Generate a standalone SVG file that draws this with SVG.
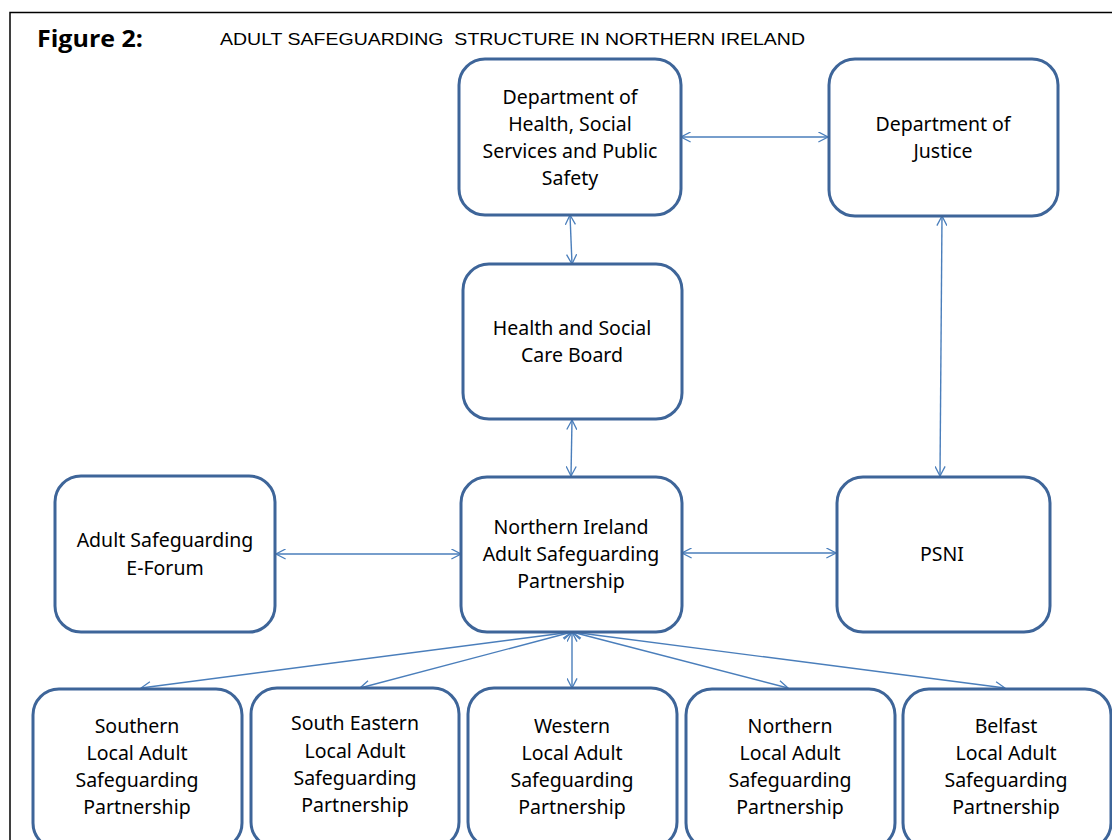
<svg xmlns="http://www.w3.org/2000/svg" width="1112" height="840" viewBox="0 0 1112 840">
<defs>
<marker id="ah" viewBox="0 0 12 12" refX="11.5" refY="6" markerWidth="11" markerHeight="11" markerUnits="userSpaceOnUse" orient="auto-start-reverse">
<path d="M1,0.5 L11.5,6 L1,11.5" fill="none" stroke="#4a7ebb" stroke-width="1.4"/>
</marker>
<style>
.box{fill:#fff;stroke:#3e6599;stroke-width:3}
.t{font-family:"Noto Sans","Open Sans",sans-serif;font-size:19.5px;fill:#000;text-anchor:middle}
.c{fill:none;stroke:#4a7ebb;stroke-width:1.4;marker-start:url(#ah);marker-end:url(#ah)}
</style>
</defs>
<rect width="1112" height="840" fill="#fff"/>
<path d="M10,850 L10,12.5 L1120,12.5" fill="none" stroke="#000" stroke-width="1.5"/>
<text x="37" y="47" font-family="Open Sans, Noto Sans, sans-serif" font-weight="bold" font-size="23" textLength="106" lengthAdjust="spacingAndGlyphs">Figure 2:</text>
<text x="220" y="45" font-family="Liberation Sans, Arial, sans-serif" font-size="17" xml:space="preserve" textLength="585" lengthAdjust="spacingAndGlyphs">ADULT SAFEGUARDING  STRUCTURE IN NORTHERN IRELAND</text>

<g id="connectors">
<line class="c" x1="681" y1="137" x2="828" y2="137"/>
<line class="c" x1="570" y1="215" x2="572" y2="264"/>
<line class="c" x1="572" y1="420" x2="571" y2="476"/>
<line class="c" x1="942" y1="216" x2="940" y2="476"/>
<line class="c" x1="276" y1="554" x2="461" y2="554"/>
<line class="c" x1="682" y1="553" x2="836" y2="553"/>
<line class="c" x1="572" y1="632" x2="141" y2="688"/>
<line class="c" x1="572" y1="632" x2="360" y2="688"/>
<line class="c" x1="572" y1="632" x2="572" y2="688"/>
<line class="c" x1="572" y1="632" x2="788" y2="688"/>
<line class="c" x1="572" y1="632" x2="1005" y2="688"/>
</g>

<g id="dhssps">
<rect class="box" x="459" y="59" width="222" height="156" rx="26"/>
<text class="t" x="570" y="104">Department of</text>
<text class="t" x="570" y="131">Health, Social</text>
<text class="t" x="570" y="158">Services and Public</text>
<text class="t" x="570" y="185">Safety</text>
</g>
<g id="doj">
<rect class="box" x="829" y="59" width="229" height="157" rx="26"/>
<text class="t" x="943" y="131">Department of</text>
<text class="t" x="943" y="158">Justice</text>
</g>
<g id="hscb">
<rect class="box" x="463" y="264" width="219" height="155" rx="26"/>
<text class="t" x="572" y="335">Health and Social</text>
<text class="t" x="572" y="362">Care Board</text>
</g>
<g id="eforum">
<rect class="box" x="55" y="476" width="220" height="156" rx="26"/>
<text class="t" x="165" y="547">Adult Safeguarding</text>
<text class="t" x="165" y="575">E-Forum</text>
</g>
<g id="niasp">
<rect class="box" x="461" y="477" width="221" height="155" rx="26"/>
<text class="t" x="571" y="534">Northern Ireland</text>
<text class="t" x="571" y="561">Adult Safeguarding</text>
<text class="t" x="571" y="588">Partnership</text>
</g>
<g id="psni">
<rect class="box" x="837" y="477" width="213" height="155" rx="26"/>
<text class="t" x="942" y="561">PSNI</text>
</g>
<g id="southern">
<rect class="box" x="33" y="689" width="209" height="160" rx="26"/>
<text class="t" x="137" y="733">Southern</text>
<text class="t" x="137" y="760">Local Adult</text>
<text class="t" x="137" y="787">Safeguarding</text>
<text class="t" x="137" y="814">Partnership</text>
</g>
<g id="southeastern">
<rect class="box" x="251" y="688" width="208" height="160" rx="26"/>
<text class="t" x="355" y="730">South Eastern</text>
<text class="t" x="355" y="758">Local Adult</text>
<text class="t" x="355" y="785">Safeguarding</text>
<text class="t" x="355" y="812">Partnership</text>
</g>
<g id="western">
<rect class="box" x="468" y="688" width="209" height="160" rx="26"/>
<text class="t" x="572" y="733">Western</text>
<text class="t" x="572" y="760">Local Adult</text>
<text class="t" x="572" y="787">Safeguarding</text>
<text class="t" x="572" y="814">Partnership</text>
</g>
<g id="northern">
<rect class="box" x="686" y="689" width="209" height="160" rx="26"/>
<text class="t" x="790" y="733">Northern</text>
<text class="t" x="790" y="760">Local Adult</text>
<text class="t" x="790" y="787">Safeguarding</text>
<text class="t" x="790" y="814">Partnership</text>
</g>
<g id="belfast">
<rect class="box" x="903" y="689" width="208" height="160" rx="26"/>
<text class="t" x="1006" y="733">Belfast</text>
<text class="t" x="1006" y="760">Local Adult</text>
<text class="t" x="1006" y="787">Safeguarding</text>
<text class="t" x="1006" y="814">Partnership</text>
</g>
</svg>
